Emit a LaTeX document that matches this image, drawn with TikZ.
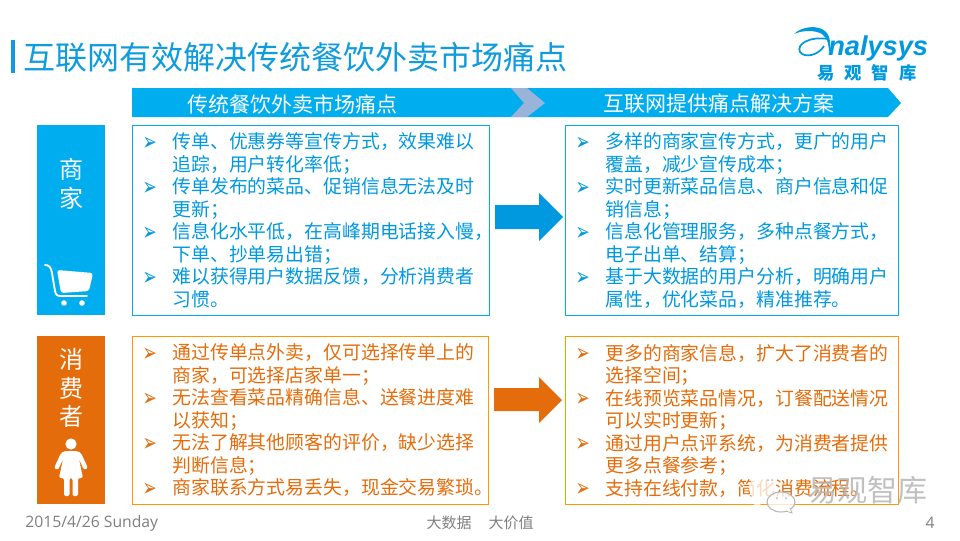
\documentclass[tikz,border=0pt]{standalone}
\usepackage{fontspec}
\usepackage{graphicx}
\setmainfont{Noto Sans CJK SC}
\newfontfamily\latinfont{Open Sans}
\newfontfamily\logofont{Liberation Sans}
\newfontfamily\symfont{DejaVu Sans}
\usetikzlibrary{positioning}
\definecolor{titlecol}{HTML}{0F9BDC}
\definecolor{headcol}{HTML}{00AEEF}
\definecolor{chevcol}{HTML}{9AB3D8}
\definecolor{bluecol}{HTML}{0098DF}
\definecolor{orangecol}{HTML}{E46C0A}
\definecolor{framecol}{HTML}{FF9900}
\definecolor{footcol}{HTML}{7F7F7F}
\definecolor{markcol}{HTML}{B5B5B5}
\tikzset{
  sidebox/.style={anchor=north west, minimum width=51pt, inner sep=0pt, text=white},
  sidetxt/.style={font=\fontsize{18}{21.5}\selectfont, align=center, text=white, inner sep=0pt},
  ptsbox/.style={anchor=north west, draw=#1, line width=0.75pt, minimum height=142.5pt, inner xsep=0pt,
                 inner ysep=0pt, align=left, font=\fontsize{14.15}{16.875}\selectfont},
  headtxt/.style={font=\fontsize{15.75}{18}\selectfont, text=white, inner sep=0pt},
  foot/.style={font=\fontsize{11.25}{13}\selectfont, text=footcol, inner sep=0pt},
}
\newcommand{\blt}{\makebox[30pt][l]{\hspace*{7.6pt}\raisebox{-1pt}{\scalebox{1.15}[1.7]{\symfont\fontsize{11}{12}\selectfont ➢}}}}
\newcommand{\cnt}{\hspace*{30pt}}
\begin{document}
\begin{tikzpicture}[x=0.75pt,y=-0.75pt]
    \useasboundingbox (0,0) rectangle (960,540);
    % title
    \fill[titlecol] (11,40) rectangle (15,73);
    \node[anchor=west, inner sep=0pt, text=titlecol, font=\fontsize{24}{28}\selectfont] (title) at (23,57) {互联网有效解决传统餐饮外卖市场痛点};
    % logo
    \draw[bluecol, line width=1.3pt] (824,46) .. controls (818,56) and (804,58) .. (800,52)
       .. controls (796,44) and (810,36) .. (828,39);
    \fill[bluecol] (794,34) .. controls (802,26) and (818,25) .. (825,31) .. controls (831,36) and (831,46) .. (829,55)
       .. controls (829,46) and (828,38) .. (822,34) .. controls (815,30) and (803,30) .. (794,34) -- cycle;
    \node[anchor=west, inner sep=0pt, text=bluecol, font=\logofont\bfseries\itshape\fontsize{20.4}{22}\selectfont] (logo) at (828,48) {nalysys};
    \node[inner sep=0pt, text=bluecol, font=\bfseries\fontsize{13}{14}\selectfont] (logocn) at (867,73) {易\hspace{7.5pt}观\hspace{7.5pt}智\hspace{7.5pt}库};
    % header band
    \fill[headcol] (132,88) -- (888,88) -- (901,103) -- (888,117) -- (132,117) -- cycle;
    \fill[chevcol] (511,88) -- (527,88) -- (545,103) -- (527,117) -- (511,117) -- (524,103) -- cycle;
    \node[headtxt] (hleft) at (292,104) {传统餐饮外卖市场痛点};
    \node[headtxt] (hright) at (719,104) {互联网提供痛点解决方案};
    % merchant row
    \node[sidebox, fill=headcol, minimum height=142.5pt] (shop) at (37,125) {};
    \node[sidetxt] (shoplbl) at (71,184) {商\\家};
    \begin{scope}[shift={(37,255)}]
      \draw[white, line width=1.4pt, line cap=round] (8,10) .. controls (12,10) and (14,12) .. (15,18) -- (18,36) .. controls (19,40) and (20,41) .. (24,41) -- (50,41);
      \fill[white, rounded corners=2pt] (20,15) -- (56,18) -- (52,36) -- (24,38) -- cycle;
      \fill[white] (27,48) circle (2.8);
      \fill[white] (45,48) circle (2.8);
    \end{scope}
    \node[ptsbox=headcol, text=bluecol, text width=267.75pt] (shopold) at (132,125) {\blt 传单、优惠券等宣传方式，效果难以\\
      \cnt 追踪，用户转化率低；\\
      \blt 传单发布的菜品、促销信息无法及时\\
      \cnt 更新；\\
      \blt 信息化水平低，在高峰期电话接入慢，\\
      \cnt 下单、抄单易出错；\\
      \blt 难以获得用户数据反馈，分析消费者\\
      \cnt 习惯。};
    \node[ptsbox=headcol, text=bluecol, text width=249.75pt] (shopnew) at (565,125) {\blt 多样的商家宣传方式，更广的用户\\
      \cnt 覆盖，减少宣传成本；\\
      \blt 实时更新菜品信息、商户信息和促\\
      \cnt 销信息；\\
      \blt 信息化管理服务，多种点餐方式，\\
      \cnt 电子出单、结算；\\
      \blt 基于大数据的用户分析，明确用户\\
      \cnt 属性，优化菜品，精准推荐。};
    \fill[bluecol] (495,205) -- (539,205) -- (539,193) -- (563,217) -- (539,241) -- (539,229) -- (495,229) -- cycle;
    % consumer row
    \node[sidebox, fill=orangecol, minimum height=126pt] (user) at (37,336) {};
    \node[sidetxt] (userlbl) at (71,388) {消\\费\\者};
    \begin{scope}[shift={(37,430)}]
      \fill[white] (34,14) circle (5.6);
      \fill[white, rounded corners=1.5pt] (27,21) -- (41,21) -- (44,23) -- (51,38) -- (47,40) -- (42,29) -- (46,48) -- (41,48) -- (41,66) -- (35.5,66) -- (35.5,48) -- (32.5,48) -- (32.5,66) -- (27,66) -- (27,48) -- (22,48) -- (26,29) -- (21,40) -- (17,38) -- (24,23) -- cycle;
    \end{scope}
    \node[ptsbox=framecol, text=orangecol, text width=267pt, minimum height=126pt] (userold) at (132,336) {\blt 通过传单点外卖，仅可选择传单上的\\
      \cnt 商家，可选择店家单一；\\
      \blt 无法查看菜品精确信息、送餐进度难\\
      \cnt 以获知；\\
      \blt 无法了解其他顾客的评价，缺少选择\\
      \cnt 判断信息；\\
      \blt 商家联系方式易丢失，现金交易繁琐。};
    \node[ptsbox=framecol, text=orangecol, text width=249.75pt, minimum height=126pt] (usernew) at (565,336) {\blt 更多的商家信息，扩大了消费者的\\
      \cnt 选择空间；\\
      \blt 在线预览菜品情况，订餐配送情况\\
      \cnt 可以实时更新；\\
      \blt 通过用户点评系统，为消费者提供\\
      \cnt 更多点餐参考；\\
      \blt 支持在线付款，简化消费流程。};
    \fill[orangecol] (494,388) -- (539,388) -- (539,377) -- (562,400) -- (539,423) -- (539,411) -- (494,411) -- cycle;
    % footer
    \node[foot, anchor=west, font=\latinfont\fontsize{11.8}{13}\selectfont] (date) at (25,523) {2015/4/26 Sunday};
    \node[foot] (slogan) at (480,523) {大数据\hspace{12.75pt}大价值};
    \node[foot, font=\latinfont\fontsize{11.8}{13}\selectfont] (pageno) at (930,523) {4};
    % watermark
    \fill[white, opacity=0.75] (762,488) ellipse (13 and 14);
    \fill[white, opacity=0.75] (757,500) -- (752,508) -- (766,502) -- cycle;
    \draw[markcol, fill=white, fill opacity=0.75, line width=0.8pt] (781,502) ellipse (14 and 10);
    \draw[markcol, fill=white, line width=0.6pt] (786,511) -- (792,513) -- (790,508);
    \foreach \dotx/\doty in {768/480,772/480,777/498,786/498}
      \fill[markcol] (\dotx,\doty) circle (1);
    \node[anchor=west, inner sep=0pt, text=markcol, opacity=0.85, font=\fontsize{22.5}{26}\selectfont] (mark) at (807,490) {易观智库};
  \end{tikzpicture}
\end{document}
